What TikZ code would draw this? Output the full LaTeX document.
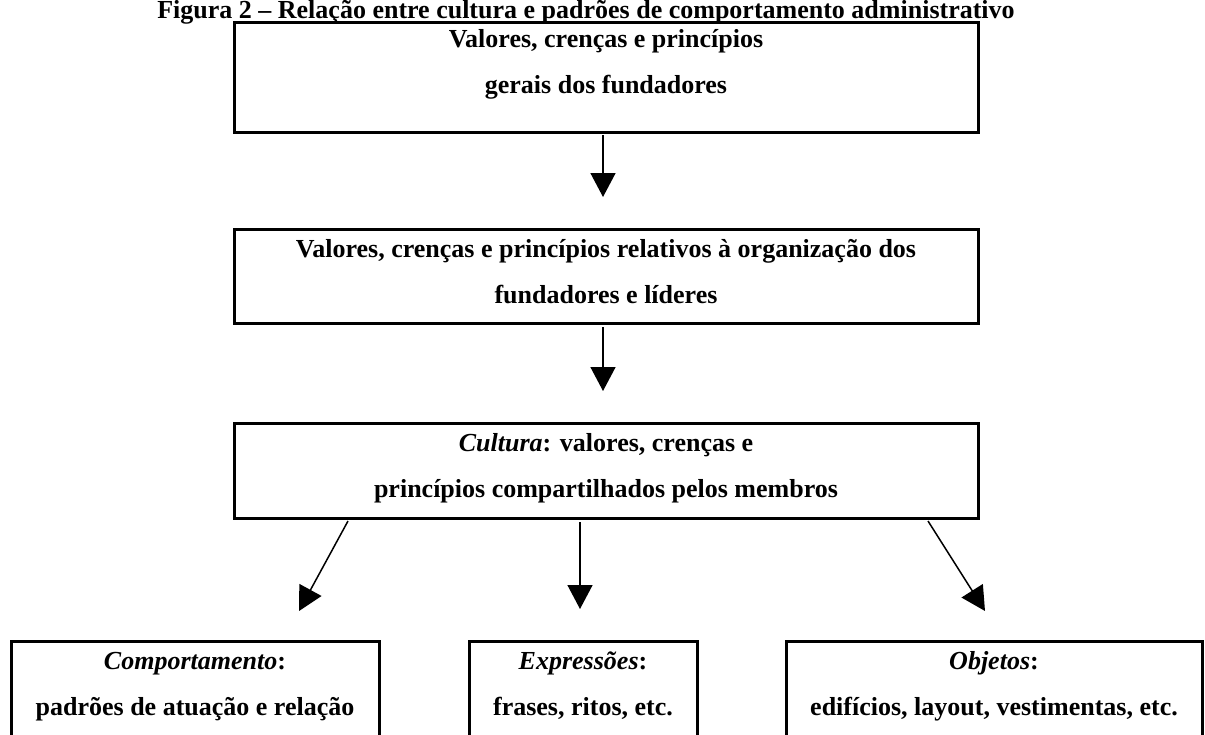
\documentclass[tikz,border=0pt]{standalone}
\usepackage{fontspec}
\setmainfont{Liberation Serif}
\usetikzlibrary{arrows.meta}
\tikzset{
  box/.style={draw=black, line width=1.5pt, inner sep=0pt},
  txt/.style={anchor=base, inner sep=0pt, font=\fontsize{13pt}{15pt}\selectfont\bfseries},
  conn/.style={draw=black, line width=0.75pt, -{Triangle[length=12pt,width=12.5pt]}}
}
\begin{document}
\begin{tikzpicture}[x=0.5pt,y=-0.5pt]
\useasboundingbox (0,0) rectangle (1205,734);
\clip (0,0) rectangle (1205,734);
% title
\node[txt] (title) at (586,18.5) {Figura 2 – Relação entre cultura e padrões de comportamento administrativo};
% boxes
\node[box, minimum width=372pt, minimum height=55pt] (b1) at (606,77) {};
\node[box, minimum width=372pt, minimum height=47pt] (b2) at (606,276) {};
\node[box, minimum width=372pt, minimum height=47.5pt] (b3) at (606,470.5) {};
\node[box, minimum width=184pt, minimum height=60pt] (c1) at (195,701) {};
\node[box, minimum width=114pt, minimum height=60pt] (c2) at (583,701) {};
\node[box, minimum width=208pt, minimum height=60pt] (c3) at (994,701) {};
% texts
\node[txt] (t1a) at (606,47) {Valores, crenças e princípios};
\node[txt] (t1b) at (606,93) {gerais dos fundadores};
\node[txt] (t2a) at (606,257) {Valores, crenças e princípios relativos à organização dos};
\node[txt] (t2b) at (606,303) {fundadores e líderes};
\node[txt] (t3a) at (606,451) {\textit{Cultura}: valores, crenças e};
\node[txt] (t3b) at (606,497) {princípios compartilhados pelos membros};
\node[txt] (u1a) at (195,669) {\textit{Comportamento}:};
\node[txt] (u1b) at (195,715) {padrões de atuação e relação};
\node[txt] (u2a) at (583,669) {\textit{Expressões}:};
\node[txt] (u2b) at (583,715) {frases, ritos, etc.};
\node[txt] (u3a) at (994,669) {\textit{Objetos}:};
\node[txt] (u3b) at (994,715) {edifícios, layout, vestimentas, etc.};
% connector ends
\coordinate (s1) at (603,135);
\coordinate (e1) at (603,197);
\coordinate (s2) at (603,327);
\coordinate (e2) at (603,391);
\coordinate (sl) at (348,521);
\coordinate (el) at (299,611);
\coordinate (sm) at (580,522);
\coordinate (em) at (580,609);
\coordinate (sr) at (928,521);
\coordinate (er) at (985,611);
\draw[conn] (s1) -- (e1);
\draw[conn] (s2) -- (e2);
\draw[conn] (sl) -- (el);
\draw[conn] (sm) -- (em);
\draw[conn] (sr) -- (er);
\end{tikzpicture}
\end{document}
